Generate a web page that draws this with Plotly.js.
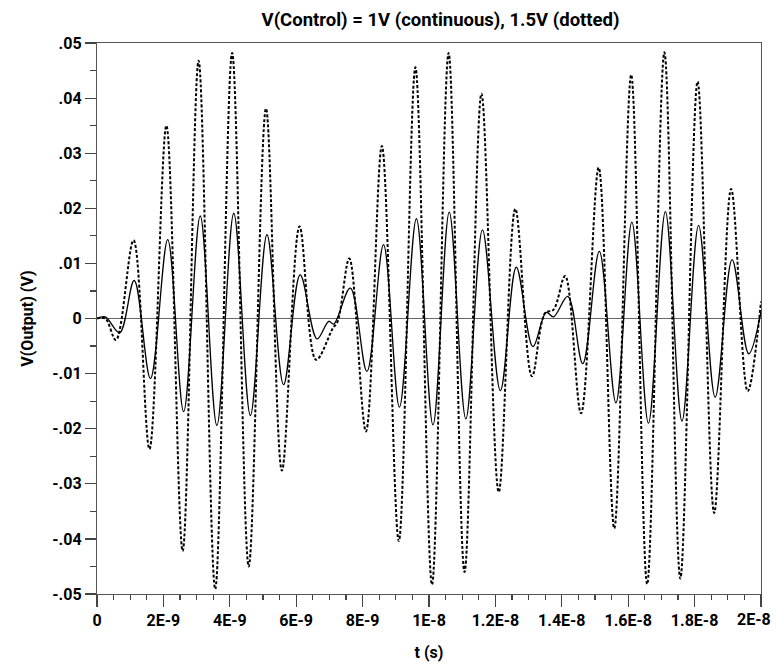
<!DOCTYPE html>
<html>
<head>
<meta charset="utf-8">
<script src="https://cdn.plot.ly/plotly-3.0.1.min.js"></script>
<style>html,body{margin:0;padding:0;background:#fff;}#chart{width:776px;height:668px;}</style>
</head>
<body>
<div id="chart"></div>
<script>
// time in nanoseconds (converted to seconds below)
var tSolidNs = [0, 0.25, 0.68, 1.12, 1.61, 2.13, 2.61, 3.11, 3.61, 4.12, 4.62, 5.12, 5.62, 6.12, 6.63, 6.98, 7.13, 7.63, 8.13, 8.63, 9.11, 9.62, 10.12, 10.61, 11.11, 11.61, 12.15, 12.63, 13.13, 13.53, 13.75, 14.18, 14.63, 15.13, 15.63, 16.11, 16.61, 17.12, 17.62, 18.12, 18.62, 19.13, 19.63, 20.0];
var vSolid = [0, 0.0003, -0.0026, 0.0069, -0.0109, 0.0143, -0.0169, 0.0186, -0.0194, 0.0191, -0.0176, 0.0152, -0.0120, 0.0079, -0.0037, -0.0005, -0.0010, 0.0055, -0.0096, 0.0134, -0.0161, 0.0181, -0.0193, 0.0193, -0.0182, 0.0161, -0.0131, 0.0093, -0.0051, 0.0011, 0.0003, 0.0040, -0.0082, 0.0122, -0.0153, 0.0175, -0.0190, 0.0194, -0.0186, 0.0169, -0.0143, 0.0107, -0.0064, 0.0012];

var tDottedNs = [0, 0.25, 0.57, 1.10, 1.58, 2.09, 2.58, 3.06, 3.56, 4.07, 4.57, 5.09, 5.57, 6.10, 6.60, 7.10, 7.25, 7.60, 8.10, 8.58, 9.09, 9.59, 10.09, 10.59, 11.07, 11.58, 12.10, 12.60, 13.10, 13.50, 13.75, 14.10, 14.58, 15.11, 15.58, 16.09, 16.57, 17.09, 17.57, 18.09, 18.59, 19.10, 19.60, 20.0];
var vDotted = [0, 0, -0.0039, 0.0142, -0.0237, 0.0350, -0.0422, 0.0468, -0.0491, 0.0482, -0.0450, 0.0381, -0.0276, 0.0167, -0.0075, -0.0018, -0.0005, 0.0109, -0.0205, 0.0313, -0.0404, 0.0456, -0.0483, 0.0482, -0.0460, 0.0408, -0.0315, 0.0199, -0.0105, 0.0010, 0.0016, 0.0077, -0.0172, 0.0274, -0.0381, 0.0442, -0.0482, 0.0483, -0.0472, 0.0430, -0.0353, 0.0235, -0.0132, 0.0031];

var xTickVals = [0, 2e-9, 4e-9, 6e-9, 8e-9, 1e-8, 1.2e-8, 1.4e-8, 1.6e-8, 1.8e-8, 2e-8];
var xTickText = ["0", "2E-9", "4E-9", "6E-9", "8E-9", "1E-8", "1.2E-8", "1.4E-8", "1.6E-8", "1.8E-8", "2E-8"];
var yTickVals = [0.05, 0.04, 0.03, 0.02, 0.01, 0, -0.01, -0.02, -0.03, -0.04, -0.05];
var yTickText = [".05", ".04", ".03", ".02", ".01", "0", "-.01", "-.02", "-.03", "-.04", "-.05"];

function toSec(a){ return a.map(function(v){ return v * 1e-9; }); }

var FONT = 'Roboto, "Liberation Sans", sans-serif';
var F = {family: FONT, size: 16, color: '#000', weight: 'bold'};

// last x label is pulled inside the page (as in the reference), drawn as an annotation
var lastIdx = xTickText.length - 1;
var xTickTextShown = xTickText.map(function(s, i){ return i === lastIdx ? '' : s; });

var traces = [
  {x: toSec(tSolidNs), y: vSolid, type: 'scatter', mode: 'lines',
   line: {color: '#000', width: 1.3, shape: 'spline', smoothing: 1}, name: '1V', hoverinfo: 'skip'},
  {x: toSec(tDottedNs), y: vDotted, type: 'scatter', mode: 'lines',
   line: {color: '#000', width: 2, dash: '3px,2px', shape: 'spline', smoothing: 1}, name: '1.5V', hoverinfo: 'skip'}
];

var layout = {
  width: 776, height: 668,
  margin: {l: 97, r: 15, t: 43, b: 74},
  paper_bgcolor: '#fff', plot_bgcolor: '#fff',
  showlegend: false,
  font: F,
  title: {text: 'V(Control) = 1V (continuous), 1.5V (dotted)', font: {family: FONT, size: 18.5, color: '#000', weight: 'bold'},
          xref: 'container', x: 0.5677, xanchor: 'center', yref: 'container', y: 0.971, yanchor: 'middle'},
  xaxis: {
    range: [0, 2e-8], tickvals: xTickVals, ticktext: xTickTextShown,
    ticks: 'outside', ticklen: 12, tickwidth: 1.2, tickcolor: '#444',
    minor: {dtick: 5e-10, ticks: 'outside', ticklen: 5, tickwidth: 1.2, tickcolor: '#444', showgrid: false},
    showline: true, linecolor: '#555', linewidth: 1.2, mirror: true,
    showgrid: false, zeroline: false,
    tickfont: F,
    title: {text: 't (s)', font: F, standoff: 17},
    automargin: false
  },
  yaxis: {
    range: [-0.05, 0.05], tickvals: yTickVals, ticktext: yTickText,
    ticks: 'outside', ticklen: 11, tickwidth: 1.2, tickcolor: '#444',
    minor: {dtick: 0.005, ticks: 'outside', ticklen: 6, tickwidth: 1.2, tickcolor: '#444', showgrid: false},
    showline: true, linecolor: '#555', linewidth: 1.2, mirror: true,
    showgrid: false, zeroline: true, zerolinecolor: '#666', zerolinewidth: 1.2,
    tickfont: F,
    title: {text: 'V(Output) (V)', font: F, standoff: 14},
    automargin: false
  },
  annotations: [{
    text: xTickText[lastIdx], xref: 'x', x: xTickVals[lastIdx], xanchor: 'right', xshift: 12,
    yref: 'paper', y: 0, yanchor: 'top', yshift: -14, showarrow: false, font: F
  }]
};

Plotly.newPlot('chart', traces, layout, {staticPlot: true, displayModeBar: false});
</script>
</body>
</html>
